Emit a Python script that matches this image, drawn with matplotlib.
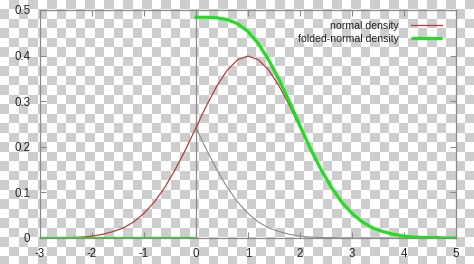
import numpy as np
import matplotlib
matplotlib.use("Agg")
import matplotlib.pyplot as plt

# ---- data ----
x_normal = [-3.0, -2.8, -2.6, -2.4, -2.2, -2.0, -1.8, -1.6, -1.4, -1.2, -1.0,
            -0.8, -0.6, -0.4, -0.2, 0.0, 0.2, 0.4, 0.6, 0.8, 1.0,
            1.2, 1.4, 1.6, 1.8, 2.0, 2.2, 2.4, 2.6, 2.8, 3.0,
            3.2, 3.4, 3.6, 3.8, 4.0, 4.2, 4.4, 4.6, 4.8, 5.0]
y_normal = [0.000, 0.000, 0.001, 0.001, 0.002, 0.004, 0.008, 0.014, 0.022, 0.035, 0.054,
            0.079, 0.111, 0.150, 0.194, 0.242, 0.290, 0.333, 0.368, 0.391, 0.399,
            0.391, 0.368, 0.333, 0.290, 0.242, 0.194, 0.150, 0.111, 0.079, 0.054,
            0.035, 0.022, 0.014, 0.008, 0.004, 0.002, 0.001, 0.001, 0.000, 0.000]

x_pos = [0.0, 0.2, 0.4, 0.6, 0.8, 1.0, 1.2, 1.4, 1.6, 1.8, 2.0, 2.2, 2.4,
         2.6, 2.8, 3.0, 3.2, 3.4, 3.6, 3.8, 4.0, 4.2, 4.4, 4.6, 4.8, 5.0]
y_folded = [0.484, 0.484, 0.483, 0.479, 0.470, 0.453, 0.426, 0.390, 0.347, 0.298, 0.246,
            0.196, 0.151, 0.112, 0.079, 0.054, 0.035, 0.022, 0.014, 0.008, 0.004,
            0.002, 0.001, 0.001, 0.000, 0.000]
y_mirror = [0.242, 0.194, 0.150, 0.111, 0.079, 0.054, 0.035, 0.022, 0.014, 0.008, 0.004,
            0.002, 0.001, 0.001, 0.000, 0.000, 0.000, 0.000, 0.000, 0.000, 0.000,
            0.000, 0.000, 0.000, 0.000, 0.000]

x_neg = [-3.0, 0.0]
y_neg = [0.0, 0.0]

x_ticks = [-3, -2, -1, 0, 1, 2, 3, 4, 5]
x_ticklabels = ["-3", "-2", "-1", "0", "1", "2", "3", "4", "5"]
y_ticks = [0, 0.1, 0.2, 0.3, 0.4, 0.5]
y_ticklabels = ["0", "0.1", "0.2", "0.3", "0.4", "0.5"]

labels = ["normal density", "folded-normal density"]

# ---- figure ----
plt.rcParams['font.family'] = ['Liberation Sans', 'DejaVu Sans']
W, H = 474, 264
fig = plt.figure(figsize=(W / 100, H / 100), dpi=100)

# checkerboard background (transparency pattern)
bg = fig.add_axes([0, 0, 1, 1], zorder=-10)
s, off = 9.5, 9.3
px = np.arange(W) + 0.5
py = np.arange(H) + 0.5
c = np.floor((px - off) / s).astype(int) + 1
r = np.floor((py - off) / s).astype(int) + 1
board = ((r[:, None] + c[None, :]) % 2 == 1).astype(float)
img = np.where(board[..., None] == 1, 205 / 255, 1.0) * np.ones((H, W, 3))
bg.imshow(img, extent=[0, W, H, 0], interpolation="nearest", aspect="auto")
bg.set_axis_off()

ax = fig.add_axes([40 / W, 1 - 238 / H, (456 - 40) / W, (238 - 10) / H])
ax.set_facecolor("none")

spine_col = "#8a8a8a"
for sp in ax.spines.values():
    sp.set_color(spine_col)
    sp.set_linewidth(0.9)

ax.axvline(0, color=spine_col, lw=0.9, zorder=1)

ax.plot(x_normal, y_normal, color="#b83c3c", lw=0.9, label=labels[0], zorder=3)
ax.plot(x_pos, y_mirror, color="#8c8c8c", lw=0.8, zorder=2)
ax.plot(x_neg, y_neg, color="#22dd22", lw=2.3, solid_capstyle="butt", zorder=4,
        label=labels[1])
ax.plot(x_pos, y_folded, color="#22dd22", lw=2.3, zorder=4)

ax.set_xlim(-3, 5)
ax.set_ylim(0, 0.5)
ax.set_xticks(x_ticks)
ax.set_xticklabels(x_ticklabels)
ax.set_yticks(y_ticks)
ax.set_yticklabels(y_ticklabels)
ax.tick_params(direction="in", length=4, width=0.8, color=spine_col,
               top=True, right=True, labelsize=8.3, labelcolor="#222222")
ax.tick_params(axis="x", pad=7.5)
ax.tick_params(axis="y", pad=7)

leg = ax.legend(loc="upper right", bbox_to_anchor=(0.966, 0.952), frameon=False,
                markerfirst=False, fontsize=7.6, handlelength=2.9, handletextpad=1.2,
                labelspacing=0.3, borderaxespad=0, borderpad=0)
for t in leg.get_texts():
    t.set_color("#222222")

fig.savefig("out.png", dpi=100)
